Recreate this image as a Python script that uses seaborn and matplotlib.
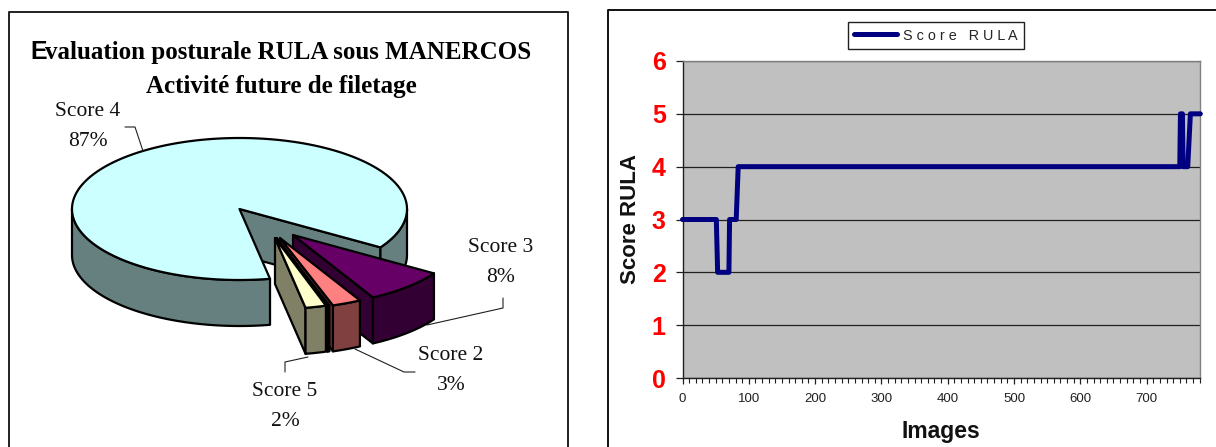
import numpy as np
import pandas as pd
import seaborn as sns
import matplotlib.pyplot as plt
from matplotlib.patches import Polygon
from matplotlib.ticker import MultipleLocator

# pie values, clockwise from the edge of Score 4 (the sliver has no label)
pie_names = ['Score 4', 'Score 3', 'Score 2', '', 'Score 5']
pie_values = [87, 8, 2.8, 0.2, 2]
pie_shown = [87, 8, 3, None, 2]

# step line of the RULA score
images = [0, 51, 53, 70, 71, 81, 84, 750, 751, 754, 755, 762, 766, 781]
rula_score = [3, 3, 2, 2, 3, 3, 4, 4, 5, 5, 4, 4, 5, 5]
x_ticks = [0, 100, 200, 300, 400, 500, 600, 700]
y_ticks = [0, 1, 2, 3, 4, 5, 6]

sns.set_theme(style='white')
plt.rcParams['font.family'] = ['Liberation Sans', 'DejaVu Sans']

fig = plt.figure(figsize=(12.16, 4.47), dpi=100)

# whole figure axes in pixels, for frames and the pie
bg = fig.add_axes([0, 0, 1, 1])
bg.set_xlim(0, 1216)
bg.set_ylim(447, 0)
bg.axis('off')

bg.plot([9, 9, 568, 568], [447, 12, 12, 447], color='#202020', lw=1.4)
bg.plot([608, 608, 1216], [447, 10, 10], color='#101010', lw=1.4)

# fake 3d pie
cx, cy = 239.5, 209
rx, ry = 167.5, 71
depth = 46
start = -32.7

top_col = ['#CCFFFF', '#660066', '#FF8080', '#660066', '#FFFFCC']
side_col = ['#668080', '#330033', '#804040', '#330033', '#808066']
shift = [(0, 0), (53.5, 26), (40.5, 29), (37, 29), (35.5, 29)]
EDGE = dict(edgecolor='black', lw=1.6, joinstyle='round')


def arc(x0, y0, a0, a1, n=120):
    t = np.radians(np.linspace(a0, a1, n))
    return np.column_stack([x0 + rx * np.cos(t), y0 - ry * np.sin(t)])


def draw_slice(a0, a1, dx, dy, top, side, z):
    # a0 > a1 going clockwise, walls first then the lid
    x0, y0 = cx + dx, cy + dy
    low = np.array([0, depth])
    end = arc(x0, y0, a1, a1, 1)[0]
    face = np.array([[x0, y0], end, end + low, [x0, y0 + depth]])
    bg.add_patch(Polygon(face, facecolor=side, zorder=z, **EDGE))
    rim = arc(x0, y0, a0, a1)
    bg.add_patch(Polygon(np.vstack([rim, (rim + low)[::-1]]), facecolor=side, zorder=z, **EDGE))
    lid = np.vstack([[x0, y0], rim])
    bg.add_patch(Polygon(lid, facecolor=top, zorder=z + 0.5, **EDGE))


# Score 4 runs counter clockwise round the back
sweep = np.array(pie_values) / sum(pie_values) * 360
main_end = start + sweep[0]
p_in = arc(cx, cy, start, start, 1)[0]
bg.add_patch(Polygon([[cx, cy], p_in, p_in + [0, depth], [cx, cy + depth]],
                     facecolor=side_col[0], zorder=2, **EDGE))
for a0, a1 in [(start, 0), (180, main_end)]:
    rim = arc(cx, cy, a0, a1)
    bg.add_patch(Polygon(np.vstack([rim, (rim + [0, depth])[::-1]]),
                         facecolor=side_col[0], zorder=2, **EDGE))
bg.add_patch(Polygon(np.vstack([[cx, cy], arc(cx, cy, start, main_end, 300)]),
                     facecolor=top_col[0], zorder=3, **EDGE))

angle = start
for i in range(1, len(pie_values)):
    draw_slice(angle, angle - sweep[i], shift[i][0], shift[i][1], top_col[i], side_col[i], 5 + i)
    angle -= sweep[i]

# leader lines
lead = dict(color='#202020', lw=0.8, zorder=5)
bg.plot([125, 135, 143], [127, 127, 151], **lead)
bg.plot([503, 503, 427], [298, 308, 325], **lead)
bg.plot([415, 404, 355], [372, 372, 349], **lead)
bg.plot([285, 285, 308], [372, 362, 357], **lead)

# labels
label_pos = [(88, 111), (501, 247), (451, 356), None, (285, 392)]
for name, val, pos in zip(pie_names, pie_shown, label_pos):
    if pos is None:
        continue
    bg.text(pos[0], pos[1], name, ha='center', va='center', fontsize=15.5,
            family='Liberation Serif', color='#111111')
    bg.text(pos[0], pos[1] + 30, '%d%%' % val, ha='center', va='center', fontsize=15.5,
            family='Liberation Serif', color='#111111')

bg.text(30, 52, 'E', ha='left', va='center', fontsize=18, fontweight='bold',
        family='Liberation Sans', color='black')
bg.text(45, 53, 'valuation posturale RULA sous MANERCOS', ha='left', va='center',
        fontsize=18, fontweight='bold', family='Liberation Serif', color='black')
bg.text(281, 87, 'Activité future de filetage', ha='center', va='center',
        fontsize=18, fontweight='bold', family='Liberation Serif', color='black')

# line chart
df = pd.DataFrame({'Images': images, 'Score RULA': rula_score})
ax = fig.add_axes([682.5 / 1216, 1 - 378 / 447, (1200 - 682.5) / 1216, (378 - 61) / 447])
ax.set_facecolor('#C0C0C0')
sns.lineplot(data=df, x='Images', y='Score RULA', color='#000080', lw=3.6,
             estimator=None, sort=False, ax=ax, label='S c o r e   R U L A', zorder=5,
             solid_capstyle='round', solid_joinstyle='round', clip_on=False)
ax.set_xlim(0, 780.5)
ax.set_ylim(0, 6)
ax.set_xticks(x_ticks)
ax.set_yticks(y_ticks)
ax.xaxis.set_minor_locator(MultipleLocator(10))
ax.yaxis.grid(True, color='#202020', lw=0.9)
ax.xaxis.grid(False)
ax.set_axisbelow(True)
ax.tick_params(axis='x', which='major', length=4, width=0.9, color='#202020', bottom=True,
               labelsize=9.5, labelcolor='#202020', pad=7)
ax.tick_params(axis='x', which='minor', length=3.5, width=0.8, color='#202020', bottom=True)
ax.tick_params(axis='y', length=5, width=0.9, color='#202020', left=True,
               labelsize=18, labelcolor='#FF0000', pad=7)
for t in ax.get_yticklabels():
    t.set_fontweight('bold')
for s in ['left', 'bottom']:
    ax.spines[s].set_color('#202020')
    ax.spines[s].set_linewidth(1)
for s in ['top', 'right']:
    ax.spines[s].set_color('#808080')
    ax.spines[s].set_linewidth(1)
ax.set_xlabel('Images', fontsize=16.5, fontweight='bold', color='#111111', labelpad=10.5)
ax.set_ylabel('Score RULA', fontsize=16, fontweight='bold', color='#111111', labelpad=7.5)

leg = ax.legend(loc='center', bbox_to_anchor=((936 - 682.5) / 517.5, 1 + (61 - 35.5) / 317),
                fontsize=10.4, frameon=True, fancybox=False, edgecolor='#202020', framealpha=1,
                handlelength=3.0, handletextpad=0.4, borderpad=0.45, borderaxespad=0)
leg.get_frame().set_linewidth(1)

fig.savefig('out.png', dpi=100)
